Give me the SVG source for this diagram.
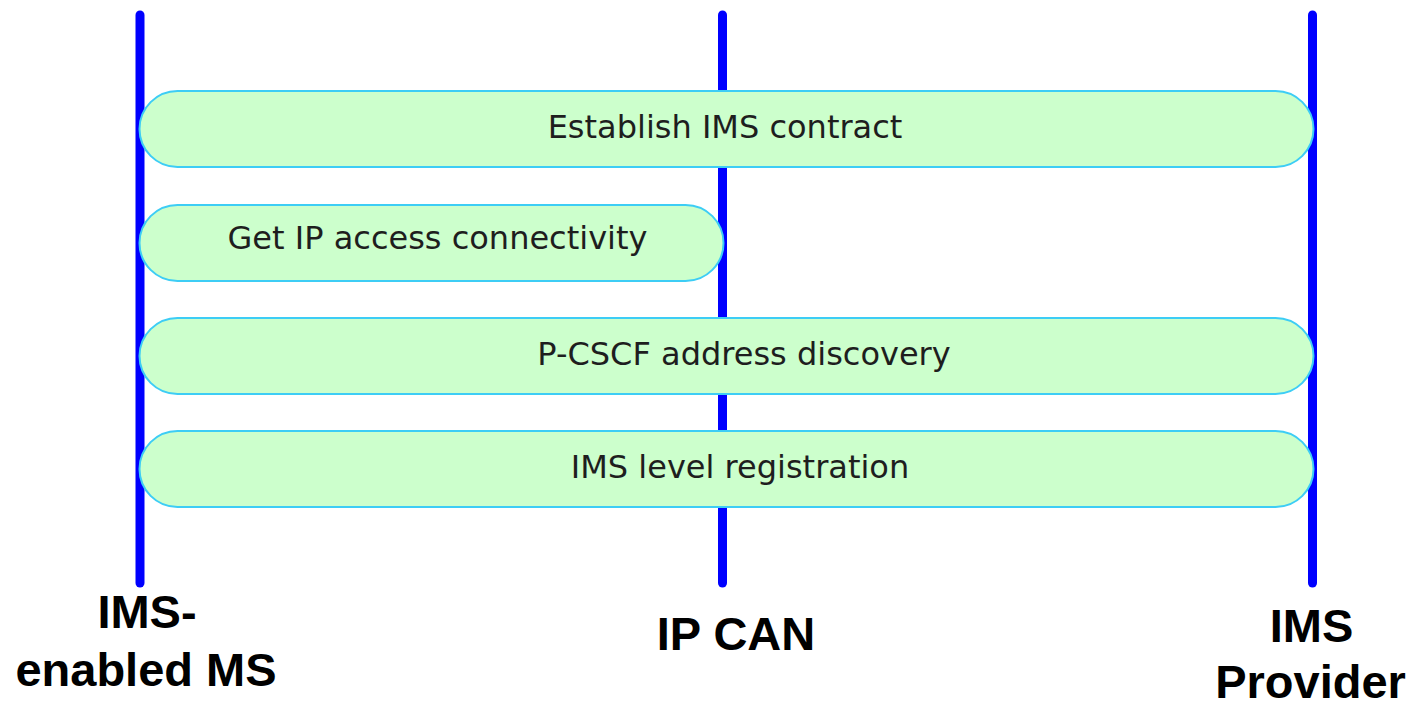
<svg xmlns="http://www.w3.org/2000/svg" width="1413" height="704" viewBox="0 0 1413 704">
<style>
.life{stroke:#0000ff;stroke-width:9;stroke-linecap:round;fill:none}
.pill{fill:#ccffcc;stroke:#3dcdf5;stroke-width:2}
.pt{font-family:"DejaVu Sans",Verdana,sans-serif;font-size:32px;fill:#1e1e1e;text-anchor:middle}
.lbl{font-family:"Liberation Sans",Arial,sans-serif;font-weight:bold;font-size:47px;fill:#000;text-anchor:middle}
</style>
<rect width="1413" height="704" fill="#ffffff"/>
<g id="connectors">
<line class="life" x1="140" y1="15" x2="140" y2="583"/>
<line class="life" x1="722.5" y1="15" x2="722.5" y2="583"/>
<line class="life" x1="1312.5" y1="15" x2="1312.5" y2="583"/>
</g>
<g id="pill-establish">
<rect class="pill" x="139.5" y="91" width="1174" height="76" rx="38" ry="38"/>
<text class="pt" x="725" y="138">Establish IMS contract</text>
</g>
<g id="pill-ip-access">
<rect class="pill" x="139.5" y="205" width="584" height="76" rx="38" ry="38"/>
<text class="pt" x="437.5" y="249">Get IP access connectivity</text>
</g>
<g id="pill-pcscf">
<rect class="pill" x="139.5" y="318" width="1174" height="76" rx="38" ry="38"/>
<text class="pt" x="744" y="365">P-CSCF address discovery</text>
</g>
<g id="pill-registration">
<rect class="pill" x="139.5" y="431" width="1174" height="76" rx="38" ry="38"/>
<text class="pt" x="740" y="478">IMS level registration</text>
</g>
<g id="node-ms">
<text class="lbl" x="147" y="628">IMS-</text>
<text class="lbl" x="146" y="686">enabled MS</text>
</g>
<g id="node-ipcan">
<text class="lbl" x="736" y="650">IP CAN</text>
</g>
<g id="node-provider">
<text class="lbl" x="1311.5" y="642">IMS</text>
<text class="lbl" x="1310.5" y="698">Provider</text>
</g>
</svg>
